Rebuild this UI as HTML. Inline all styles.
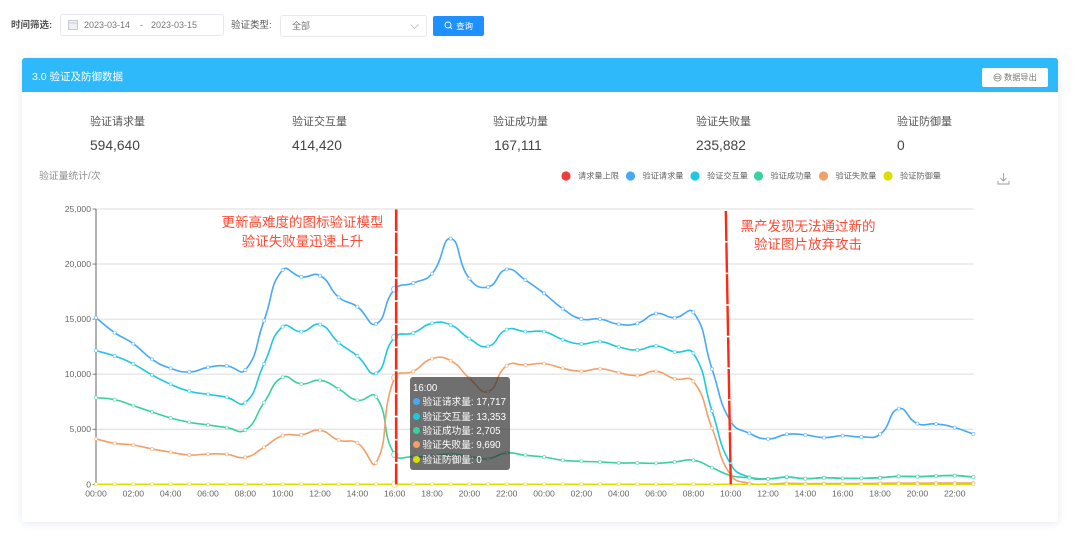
<!DOCTYPE html>
<html lang="zh">
<head>
<meta charset="utf-8">
<title>3.0 验证及防御数据</title>
<style>
html,body{margin:0;padding:0;background:#fff}
body{width:1080px;height:550px;position:relative;overflow:hidden;font-family:"Liberation Sans","Noto Sans CJK SC",sans-serif;color:#555;filter:blur(.35px)}
.a{position:absolute;white-space:nowrap}
.box{position:absolute;box-sizing:border-box;background:#fff;border:1px solid #e6e9f0;border-radius:3px}
.stat-l{position:absolute;top:115px;font-size:11px;line-height:15px;color:#555;white-space:nowrap}
.stat-v{position:absolute;top:137px;font-size:13.8px;line-height:18px;color:#444;white-space:nowrap}
svg text{font-family:"Liberation Sans","Noto Sans CJK SC",sans-serif}
</style>
</head>
<body>

<div class="a" style="left:11px;top:19px;font-size:9.5px;line-height:14px;color:#555;font-weight:bold">时间筛选:</div>
<div class="box" style="left:60px;top:14px;width:164px;height:22px">
  <svg style="position:absolute;left:7px;top:5px" width="10" height="10"><rect x="0.5" y="0.5" width="9" height="9" fill="#eef0f3" stroke="#c8ccd2"/><line x1="1" y1="3" x2="9" y2="3" stroke="#c8ccd2"/></svg>
  <span class="a" style="left:23px;top:4px;font-size:9px;line-height:13px;color:#777">2023-03-14</span>
  <span class="a" style="left:79px;top:4px;font-size:9px;line-height:13px;color:#777">-</span>
  <span class="a" style="left:90px;top:4px;font-size:9px;line-height:13px;color:#777">2023-03-15</span>
</div>
<div class="a" style="left:231px;top:19px;font-size:9.5px;line-height:14px;color:#555">验证类型:</div>
<div class="box" style="left:280px;top:15px;width:147px;height:22px">
  <span class="a" style="left:11px;top:3px;font-size:9px;line-height:14px;color:#777">全部</span>
  <svg style="position:absolute;left:129px;top:8px" width="9" height="6"><path d="M0.5 0.5L4.5 4.5L8.5 0.5" fill="none" stroke="#bbb" stroke-width="0.8"/></svg>
</div>
<div class="a" style="left:433px;top:16px;width:51px;height:20px;background:#1e90ff;border-radius:2px">
  <svg style="position:absolute;left:11px;top:5px" width="9" height="9"><circle cx="4" cy="4" r="3" fill="none" stroke="#fff" stroke-width="0.9"/><line x1="6" y1="6" x2="8" y2="8" stroke="#fff" stroke-width="0.9"/></svg>
  <span class="a" style="left:23px;top:3.5px;font-size:8.5px;line-height:12px;color:#fff">查询</span>
</div>

<div class="a" style="left:22px;top:58px;width:1036px;height:464px;background:#fff;border-radius:3px;box-shadow:0 1px 8px rgba(120,140,190,.2)"></div>
<div class="a" style="left:22px;top:58px;width:1036px;height:34px;background:#2db9fa;border-radius:3px 3px 0 0"></div>
<div class="a" style="left:32px;top:69.5px;font-size:10.5px;line-height:15px;color:#fff">3.0 验证及防御数据</div>
<div class="a" style="left:982px;top:68px;width:66px;height:19px;background:#fff;border-radius:2px">
  <svg style="position:absolute;left:11px;top:5px" width="9" height="9"><circle cx="4.5" cy="4.5" r="3.6" fill="none" stroke="#888" stroke-width="0.8"/><rect x="2.5" y="3.5" width="4" height="2" fill="none" stroke="#888" stroke-width="0.7"/></svg>
  <span class="a" style="left:22px;top:3.5px;font-size:8.2px;line-height:12px;color:#777">数据导出</span>
</div>

<div class="stat-l" style="left:90px">验证请求量</div>
<div class="stat-v" style="left:90px">594,640</div>
<div class="stat-l" style="left:292px">验证交互量</div>
<div class="stat-v" style="left:292px">414,420</div>
<div class="stat-l" style="left:493px">验证成功量</div>
<div class="stat-v" style="left:494px">167,111</div>
<div class="stat-l" style="left:696px">验证失败量</div>
<div class="stat-v" style="left:696px">235,882</div>
<div class="stat-l" style="left:897px">验证防御量</div>
<div class="stat-v" style="left:897px">0</div>

<div class="a" style="left:39px;top:169.5px;font-size:9.8px;line-height:14px;color:#909090">验证量统计/次</div>

<svg id="chart" width="1080" height="550" style="position:absolute;left:0;top:0"></svg>

<svg style="position:absolute;left:997px;top:172px" width="13" height="13"><path d="M6.5 1V9M3.5 6L6.5 9L9.5 6M1 9V12H12V9" fill="none" stroke="#999" stroke-width="0.9"/></svg>

<div id="tooltip" style="position:absolute;left:409.5px;top:377px;width:100px;height:92.5px;background:rgba(50,50,50,.7);border-radius:3px;color:#fff;font-size:9.7px"></div>

<script>
const hours = ["00:00","01:00","02:00","03:00","04:00","05:00","06:00","07:00","08:00","09:00","10:00","11:00","12:00","13:00","14:00","15:00","16:00","17:00","18:00","19:00","20:00","21:00","22:00","23:00","00:00","01:00","02:00","03:00","04:00","05:00","06:00","07:00","08:00","09:00","10:00","11:00","12:00","13:00","14:00","15:00","16:00","17:00","18:00","19:00","20:00","21:00","22:00","23:00"];
const yTicks = [0,5000,10000,15000,20000,25000];
const legendNames = ["请求量上限","验证请求量","验证交互量","验证成功量","验证失败量","验证防御量"];
const requestSeries = [15130,13770,12770,11350,10530,10200,10620,10750,10380,14860,19460,18830,18950,16980,16130,14560,17717,18280,19130,22310,18680,17920,19520,18550,17340,15950,15010,15010,14530,14620,15500,15130,15620,10470,5700,4630,4120,4540,4480,4240,4420,4300,4540,6870,5510,5480,5150,4570];
const interactSeries = [12140,11650,10930,9930,9080,8450,8170,7900,7420,10930,14320,13860,14500,12860,11650,10080,13353,13740,14620,14470,13230,12530,14050,13860,13860,13140,12740,12960,12470,12200,12560,12020,11900,6660,1820,640,500,650,510,600,545,545,600,725,700,760,790,670];
const successSeries = [7870,7690,7140,6570,6020,5630,5390,5150,4930,7420,9720,9110,9440,8660,7630,7960,2705,2510,2570,2750,2510,2330,2850,2630,2480,2180,2090,2030,1940,1940,1910,2030,2180,1510,790,600,480,670,510,600,545,545,600,725,700,760,790,670];
const failureSeries = [4120,3720,3570,3210,2910,2660,2750,2720,2450,3360,4420,4480,4900,4000,3750,1940,9690,10260,11410,11230,9630,8420,10780,10840,10960,10530,10260,10500,10140,9870,10260,9570,9350,5090,850,90,30,90,60,70,70,70,90,100,100,110,110,110];
const defenseSeries = new Array(48).fill(0);
const hoverIndex = 16;

const svg = document.getElementById('chart');
const NS = 'http://www.w3.org/2000/svg';
const yMax = yTicks[yTicks.length-1];
function xScale(i){ return 96 + i*(973.4-96)/(hours.length-1); }
function yScale(v){ return 484.3 - v/yMax*275.3; }
function node(tag, attrs, parent){
  const el = document.createElementNS(NS, tag);
  for(const k in attrs) el.setAttribute(k, attrs[k]);
  (parent||svg).appendChild(el);
  return el;
}
function fmt(v){ return v.toLocaleString('en-US'); }
function smoothPath(vals){
  const s = 0.5;
  const pts = vals.map((v,i)=>[xScale(i),yScale(v)]);
  const prevCp = [], nextCp = [];
  pts.forEach((p,i)=>{
    const a = pts[Math.max(i-1,0)], b = pts[Math.min(i+1,pts.length-1)];
    const d0 = Math.hypot(p[0]-a[0],p[1]-a[1]), d1 = Math.hypot(b[0]-p[0],b[1]-p[1]);
    const sum = (d0+d1)||1;
    const vx = (b[0]-a[0])*s, vy = (b[1]-a[1])*s;
    prevCp[i] = [p[0]-vx*d0/sum, p[1]-vy*d0/sum];
    nextCp[i] = [p[0]+vx*d1/sum, p[1]+vy*d1/sum];
  });
  let d = 'M'+pts[0][0].toFixed(2)+' '+pts[0][1].toFixed(2);
  for(let i=0;i<pts.length-1;i++){
    d+='C'+nextCp[i][0].toFixed(2)+' '+nextCp[i][1].toFixed(2)+' '+prevCp[i+1][0].toFixed(2)+' '+prevCp[i+1][1].toFixed(2)+' '+pts[i+1][0].toFixed(2)+' '+pts[i+1][1].toFixed(2);
  }
  return d;
}

yTicks.forEach(v=>{
  const grid = node('line',{x1:96,x2:973.6,y1:yScale(v),y2:yScale(v),stroke:'#dcdcdc','stroke-width':1});
  
  
  const tick = node('line',{x1:92.5,x2:96,y1:yScale(v),y2:yScale(v),stroke:'#666','stroke-width':0.8});
  
  
  const label = node('text',{x:91,y:yScale(v)+3,'text-anchor':'end','font-size':8.6,fill:'#666'});
  
  
  label.textContent = fmt(v);
});
const yAxis = node('line',{x1:96,x2:96,y1:yScale(yMax),y2:yScale(0),stroke:'#666','stroke-width':1});



hours.forEach((h,i)=>{
  if(i%2) return;
  const label = node('text',{x:xScale(i),y:496.5,'text-anchor':'middle','font-size':8.6,fill:'#666'});
  
  
  label.textContent = h;
});

const seriesList = [
  {name:legendNames[1],vals:requestSeries,color:'#46a9f8',key:'request'},
  {name:legendNames[2],vals:interactSeries,color:'#1fc8de',key:'interact'},
  {name:legendNames[3],vals:successSeries,color:'#3bd0a0',key:'success'},
  {name:legendNames[4],vals:failureSeries,color:'#f0a068',key:'failure'},
  {name:legendNames[5],vals:defenseSeries,color:'#dbdf00',key:'defense'}
];
seriesList.forEach(s=>{
  const line = node('path',{d:smoothPath(s.vals),fill:'none',stroke:s.color,'stroke-width':1.6,'stroke-linejoin':'round'});
  
  
  s.vals.forEach((v,i)=>{
    const hover = i===hoverIndex;
    const pt = node('circle',{cx:xScale(i),cy:yScale(v),r:hover?3.1:1.6,fill:'#fff',stroke:s.color,'stroke-width':hover?0.9:0.7,'stroke-opacity':0.7});
    
    
  });
});

const legendX = [566,630.5,695,758.5,823.5,888];
const legendColors = ['#ee3b3b','#46a9f8','#1fc8de','#3bd0a0','#f0a068','#dbdf00'];
legendNames.forEach((n,i)=>{
  const dot = node('circle',{cx:legendX[i],cy:176,r:4.6,fill:legendColors[i]});
  
  
  const label = node('text',{x:legendX[i]+12,y:178.3,'font-size':8.2,fill:'#666'});
  
  
  label.textContent = n;
});

const m1 = node('line',{x1:396.2,y1:209.5,x2:396.2,y2:484.5,stroke:'#fb2a14','stroke-width':2.6,'stroke-dasharray':'21.5 1.6'});


const m2 = node('line',{x1:725.8,y1:211,x2:730.8,y2:484.5,stroke:'#fb2a14','stroke-width':2.4,'stroke-dasharray':'30 1.6'});



const notes = [
  ['更新高难度的图标验证模型',302.5,227],
  ['验证失败量迅速上升',302.5,246],
  ['黑产发现无法通过新的',808,231],
  ['验证图片放弃攻击',808,249]
];
notes.forEach(n=>{
  const t = node('text',{x:n[1],y:n[2],'text-anchor':'middle','font-size':13.5,fill:'#fb4b35'});
  
  
  t.textContent = n[0];
});

const tip = document.getElementById('tooltip');
const head = document.createElement('div');


head.style.cssText='position:absolute;left:3.5px;top:5px;line-height:14px;white-space:nowrap';
head.textContent = hours[hoverIndex];
tip.appendChild(head);
seriesList.forEach((s,i)=>{
  const row = document.createElement('div');
  
  
  row.style.cssText='position:absolute;left:3px;top:'+(19.2+i*14.4)+'px;line-height:14px;white-space:nowrap';
  const dot = document.createElement('span');
  
  
  dot.style.cssText='display:inline-block;width:7px;height:7px;border-radius:50%;margin-right:3px;background:'+s.color;
  row.appendChild(dot);
  row.appendChild(document.createTextNode(s.name+': '+fmt(s.vals[hoverIndex])));
  tip.appendChild(row);
});
</script>
</body>
</html>
